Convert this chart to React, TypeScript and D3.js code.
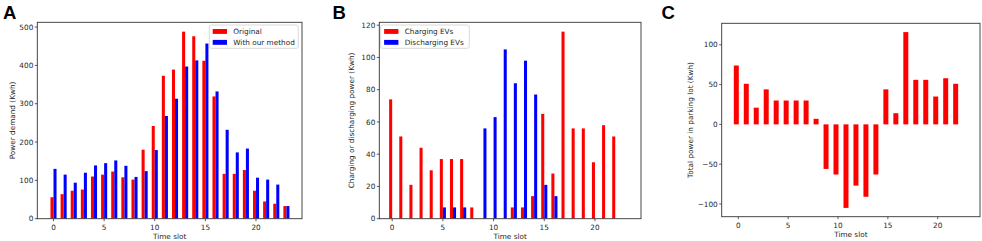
import React from "react";
import * as d3 from "d3";

// ---------- data ----------
const slotsA = d3.range(24);
const originalDemand = [56, 64, 73, 76, 110, 115, 123, 108, 102, 180, 242, 373, 389, 488, 476, 412, 319, 117, 117, 127, 73, 45, 39, 33];
const methodDemand = [130, 115, 94, 120, 139, 145, 152, 138, 109, 124, 179, 268, 313, 397, 413, 457, 332, 232, 173, 183, 107, 102, 89, 33];

const slotsB = d3.range(23);
const chargingEVs = [74, 51, 21, 44, 30, 37, 37, 37, 7, 0, 0, 0, 7, 7, 14, 65, 28, 116, 56, 56, 35, 58, 51];
const dischargingEVs = [0, 0, 0, 0, 0, 7, 7, 7, 0, 56, 63, 105, 84, 98, 77, 21, 14, 0, 0, 0, 0, 0, 0];

const slotsC = d3.range(23);
const totalPower = [74, 51, 21, 44, 30, 30, 30, 30, 7, -56, -63, -105, -77, -91, -63, 44, 14, 116, 56, 56, 35, 58, 51];

const xTicks = [0, 5, 10, 15, 20];
const yTicksA = [0, 100, 200, 300, 400, 500];
const yTicksB = [0, 20, 40, 60, 80, 100, 120];
const yTicksC = [-100, -50, 0, 50, 100];

const RED = "#ff0000";
const BLUE = "#0000ff";
const FONT = "DejaVu Sans, sans-serif";
const FS = 7.3;

type Series = { values: number[]; color: string; off0: number; off1: number };

type PanelProps = {
  letter: string;
  letterX: number;
  left: number;
  right: number;
  top: number;
  bottom: number;
  xDomain: [number, number];
  yDomain: [number, number];
  yTicks: number[];
  slots: number[];
  series: Series[];
  yLabel: string;
  yLabelOffset: number;
  legend?: { x: number; y: number; w: number; items: { label: string; color: string }[] };
};

const fmt = (v: number) => (v < 0 ? "\u2212" + Math.abs(v) : String(v));

function Panel(p: PanelProps) {
  const x = d3.scaleLinear().domain(p.xDomain).range([p.left, p.right]);
  const y = d3.scaleLinear().domain(p.yDomain).range([p.bottom, p.top]);
  const y0 = y(0);
  const cx = (p.left + p.right) / 2;
  const cy = (p.top + p.bottom) / 2;
  return (
    <g>
      <text x={p.letterX} y={18.5} fontFamily="Liberation Sans, Arial, sans-serif" fontWeight="bold" fontSize={18.5} fill="#000">
        {p.letter}
      </text>
      <defs>
        <clipPath id={"clip" + p.letter}>
          <rect x={p.left} y={p.top} width={p.right - p.left} height={p.bottom - p.top} />
        </clipPath>
      </defs>
      <g clipPath={`url(#clip${p.letter})`}>
        {p.series.map((s, si) =>
          p.slots.map((i) => {
            const v = s.values[i];
            if (!v) return null;
            const x0 = x(i + s.off0);
            const x1 = x(i + s.off1);
            const ya = y(Math.max(0, v));
            const yb = y(Math.min(0, v));
            return <rect key={si + "-" + i} x={x0} y={ya} width={x1 - x0} height={yb - ya} fill={s.color} />;
          })
        )}
      </g>
      <rect x={p.left} y={p.top} width={p.right - p.left} height={p.bottom - p.top} fill="none" stroke="#333" strokeWidth={0.9} />
      {xTicks.map((t) => (
        <g key={"xt" + t}>
          <line x1={x(t)} x2={x(t)} y1={p.bottom} y2={p.bottom + 2.5} stroke="#333" strokeWidth={0.8} />
          <text x={x(t)} y={p.bottom + 11.2} textAnchor="middle" fontFamily={FONT} fontSize={FS} fill="#262626">
            {fmt(t)}
          </text>
        </g>
      ))}
      {p.yTicks.map((t) => (
        <g key={"yt" + t}>
          <line x1={p.left - 2.5} x2={p.left} y1={y(t)} y2={y(t)} stroke="#333" strokeWidth={0.8} />
          <text x={p.left - 4} y={y(t)} dy="0.36em" textAnchor="end" fontFamily={FONT} fontSize={FS} fill="#262626">
            {fmt(t)}
          </text>
        </g>
      ))}
      <text x={cx} y={p.bottom + 20.6} textAnchor="middle" fontFamily={FONT} fontSize={FS} fill="#262626">
        Time slot
      </text>
      <text
        transform={`translate(${p.left - p.yLabelOffset},${cy}) rotate(-90)`}
        textAnchor="middle"
        fontFamily={FONT}
        fontSize={FS}
        fill="#262626"
      >
        {p.yLabel}
      </text>
      {p.legend && (
        <g>
          <rect x={p.legend.x} y={p.legend.y} width={p.legend.w} height={23.3} rx={2} fill="#fff" fillOpacity={0.8} stroke="#d0d0d0" strokeWidth={0.8} />
          {p.legend.items.map((it, k) => (
            <g key={it.label}>
              <rect x={p.legend!.x + 3.4} y={p.legend!.y + 4 + k * 10.9} width={14.3} height={4.9} fill={it.color} />
              <text x={p.legend!.x + 24} y={p.legend!.y + 6.5 + k * 10.9} dy="0.36em" fontFamily={FONT} fontSize={FS} fill="#262626">
                {it.label}
              </text>
            </g>
          ))}
        </g>
      )}
      <line x1={p.left} x2={p.right} y1={y0} y2={y0} stroke="none" />
    </g>
  );
}

export default function App() {
  return (
    <svg width={982} height={241} style={{ position: "absolute", left: 0, top: 0, background: "#fff" }}>
      <rect width={982} height={241} fill="#fff" />
      <Panel
        letter="A"
        letterX={3}
        left={37.3}
        right={302}
        top={22.3}
        bottom={218.7}
        xDomain={[-1.6, 24.54]}
        yDomain={[0, 512.4]}
        yTicks={yTicksA}
        slots={slotsA}
        series={[
          { values: originalDemand, color: RED, off0: -0.3, off1: 0 },
          { values: methodDemand, color: BLUE, off0: 0, off1: 0.3 },
        ]}
        yLabel="Power demand (Kwh)"
        yLabelOffset={22.3}
        legend={{
          x: 209.3,
          y: 25,
          w: 89,
          items: [
            { label: "Original", color: RED },
            { label: "With our method", color: BLUE },
          ],
        }}
      />
      <Panel
        letter="B"
        letterX={332.5}
        left={379.3}
        right={641}
        top={22.3}
        bottom={218.7}
        xDomain={[-1.27, 24.54]}
        yDomain={[0, 121.8]}
        yTicks={yTicksB}
        slots={slotsB}
        series={[
          { values: chargingEVs, color: RED, off0: -0.3, off1: 0 },
          { values: dischargingEVs, color: BLUE, off0: 0, off1: 0.3 },
        ]}
        yLabel="Charging or discharging power (Kwh)"
        yLabelOffset={25.8}
        legend={{
          x: 380.7,
          y: 25,
          w: 88.6,
          items: [
            { label: "Charging EVs", color: RED },
            { label: "Discharging EVs", color: BLUE },
          ],
        }}
      />
      <Panel
        letter="C"
        letterX={661.5}
        left={721.7}
        right={980}
        top={23.3}
        bottom={216.7}
        xDomain={[-1.665, 24.24]}
        yDomain={[-116.05, 127.05]}
        yTicks={yTicksC}
        slots={slotsC}
        series={[{ values: totalPower, color: RED, off0: -0.45, off1: 0.05 }]}
        yLabel="Total power in parking lot (Kwh)"
        yLabelOffset={28.7}
      />
    </svg>
  );
}
